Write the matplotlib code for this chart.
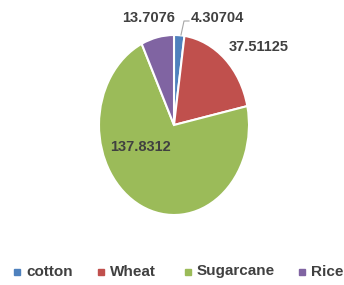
import matplotlib.pyplot as plt
from matplotlib.lines import Line2D

crops = ["cotton", "Wheat", "Sugarcane", "Rice"]
values = [4.30704, 37.51125, 137.8312, 13.7076]
labels = ["4.30704", "37.51125", "137.8312", "13.7076"]
colors = ["#4F81BD", "#C0504D", "#9BBB59", "#8064A2"]

W, H = 344, 285
fig = plt.figure(figsize=(W / 100, H / 100), dpi=100)
fig.patch.set_facecolor("white")

fnt = ["Liberation Sans Narrow", "Liberation Sans", "DejaVu Sans"]
txtc = "#404040"

# pie area in pixels: x 99..249, y 35..215 (slightly stretched vertically)
ax = fig.add_axes([99 / W, (H - 215) / H, 150 / W, 180 / H])
ax.pie(values, colors=colors, startangle=90, counterclock=False,
       wedgeprops=dict(edgecolor="white", linewidth=1.5))
ax.set_aspect("auto")
ax.set_xlim(-1, 1)
ax.set_ylim(-1, 1)
ax.axis("off")

# data labels (pixel positions)
pos = {
    "4.30704": (191, 18, "left"),
    "37.51125": (229, 47, "left"),
    "137.8312": (110, 147, "left"),
    "13.7076": (175, 18, "right"),
}
for lab in labels:
    x, y, ha = pos[lab]
    fig.text(x / W, 1 - y / H, lab, ha=ha, va="center", fontsize=10.5,
             fontweight="bold", color=txtc, family=fnt)

# leader line for the small slice
fig.add_artist(Line2D([181 / W, 184 / W, 189 / W],
                      [1 - 35 / H, 1 - 21 / H, 1 - 21 / H],
                      color="#A6A6A6", linewidth=0.8))

# legend drawn by hand so it spreads like the original
leg_x = [17, 100.5, 187.5, 302]
for c, name, x in zip(colors, crops, leg_x):
    fig.add_artist(Line2D([x / W], [1 - 271.5 / H], marker="s", markersize=5,
                          linestyle="none", markerfacecolor=c, markeredgecolor=c))
    fig.text((x + 9) / W, 1 - 271.5 / H, name, ha="left", va="center",
             fontsize=11, fontweight="bold", color=txtc, family=fnt)

fig.savefig("out.png", dpi=100)
